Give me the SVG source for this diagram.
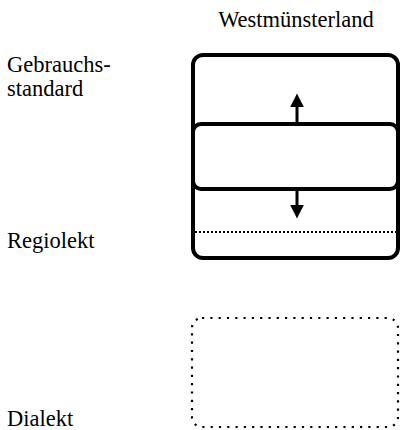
<svg xmlns="http://www.w3.org/2000/svg" width="400" height="430" viewBox="0 0 400 430">
<defs>
<marker id="ah" viewBox="0 0 10 10" refX="1" refY="5" markerWidth="14" markerHeight="14" markerUnits="userSpaceOnUse" orient="auto">
<path d="M0,0 L10,5 L0,10 Z" fill="#000"/>
</marker>
</defs>
<rect width="400" height="430" fill="#fff"/>
<g id="title"><text x="296" y="27" text-anchor="middle" font-family="Liberation Serif, serif" font-size="22.5">Westmünsterland</text></g>
<g id="labels" font-family="Liberation Serif, serif" font-size="22.5">
<text x="7" y="72">Gebrauchs-</text>
<text x="7" y="96">standard</text>
<text x="7" y="248">Regiolekt</text>
<text x="7" y="426">Dialekt</text>
</g>
<g id="outer-box"><rect x="193" y="55" width="205" height="203" rx="10" fill="none" stroke="#000" stroke-width="4"/></g>
<g id="regiolekt-line"><line x1="195" y1="232" x2="400" y2="232" stroke="#000" stroke-width="2" stroke-dasharray="2 2"/></g>
<g id="inner-box"><rect x="193" y="124" width="205" height="65" rx="8" fill="#fff" stroke="#000" stroke-width="4"/></g>
<g id="dialekt-box"><rect x="192" y="318" width="206" height="109" rx="10" fill="none" stroke="#000" stroke-width="2.2" stroke-dasharray="2.2 6.1"/></g>
<g id="connectors" stroke="#000" stroke-width="3" fill="none">
<line x1="297" y1="122" x2="297" y2="106" marker-end="url(#ah)"/>
<line x1="297" y1="191" x2="297" y2="206" marker-end="url(#ah)"/>
</g>
</svg>
